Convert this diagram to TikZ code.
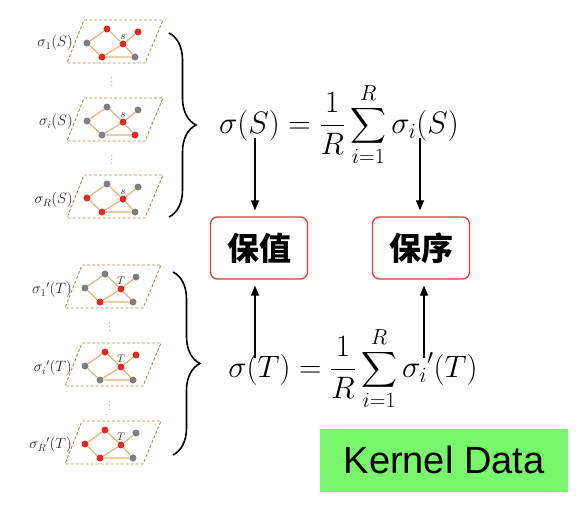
\documentclass[tikz,border=0pt]{standalone}
\usepackage{fix-cm}
\usepackage{fontspec}
\usepackage{amsmath}
\usetikzlibrary{arrows.meta,positioning,decorations.pathreplacing}
\newfontfamily\cjk{Noto Sans CJK SC}
\newfontfamily\arialfont{Liberation Sans}
\definecolor{nred}{HTML}{E8281E}
\definecolor{ngray}{HTML}{7F7F7F}
\definecolor{etan}{HTML}{D9B77E}
\definecolor{fbrown}{HTML}{A88A4E}
\definecolor{bred}{HTML}{E53A2F}
\definecolor{kgreen}{HTML}{78F66C}

\tikzset{
gdot/.style={circle,inner sep=0pt,minimum size=7pt},
gedge/.style={etan,line width=1.2pt},
gframe/.style={fbrown,dash pattern=on 3pt off 2pt,line width=0.9pt}}

% six vertices: left, top, centre, right, bottom, bottom right
\newcommand{\gnodes}[7]{%
\node[gdot,fill=#2] (#1l) at (3,23) {};
\node[gdot,fill=#3] (#1t) at (23,9) {};
\node[gdot,fill=#4] (#1c) at (39,24) {};
\node[gdot,fill=#5] (#1r) at (54,12) {};
\node[gdot,fill=#6] (#1b) at (18,37) {};
\node[gdot,fill=#7] (#1q) at (51,37) {};}

% name, x, y, letter, colours
\newcommand{\minigraph}[5]{%
\begin{scope}[shift={(#2,#3)}]
\draw[gframe] (0,0) -- (79,0) -- (61,43) -- (-17,43) -- cycle;
\gnodes{#1}#5
\node[above=0pt of #1c,inner sep=1pt,text=black!80,font=\fontsize{11}{13}\selectfont] (#1s) {$#4$};
\draw[gedge] (#1l)--(#1t) (#1t)--(#1c) (#1c)--(#1r) (#1l)--(#1b)
  (#1b)--(#1c) (#1b)--(#1q) (#1c)--(#1q);
\end{scope}}

\begin{document}
\begin{tikzpicture}[x=1pt,y=-1pt,
eq/.style={inner sep=0pt,font=\fontsize{31}{36}\selectfont},
lab/.style={anchor=east,inner sep=0pt,text=black!85,font=\fontsize{15}{17}\selectfont},
vd/.style={inner sep=0pt,text=black!80,font=\small},
keep/.style={draw=bred,line width=1.3pt,rounded corners=7pt,minimum width=97pt,minimum height=62pt,font=\cjk\bfseries\fontsize{32}{36}\selectfont},
kernel/.style={fill=kgreen,minimum width=248pt,minimum height=63pt,font=\arialfont\fontsize{38}{44}\selectfont},
arr/.style={-{Triangle[length=10pt,width=8pt]},line width=1.2pt,shorten >=6pt},
bigbrace/.style={decorate,decoration={brace,amplitude=27pt},line width=1.6pt}]
\useasboundingbox (0,0) rectangle (579,512);

% S samples
\minigraph{a}{84}{20}{s}{{ngray}{nred}{nred}{nred}{nred}{ngray}}
\minigraph{b}{84}{98}{s}{{ngray}{ngray}{nred}{ngray}{ngray}{nred}}
\minigraph{c}{84}{175}{s}{{nred}{ngray}{nred}{ngray}{nred}{ngray}}
\node[lab] (labA) at (73,43) {$\sigma_1(S)$};
\node[lab] (labB) at (73,122) {$\sigma_i(S)$};
\node[lab] (labC) at (73,200) {$\sigma_R(S)$};
\node[vd] (dotA) at (112,79) {$\vdots$};
\node[vd] (dotB) at (112,157) {$\vdots$};

% T samples
\minigraph{d}{82}{265}{T}{{ngray}{ngray}{nred}{ngray}{nred}{ngray}}
\minigraph{e}{82}{343}{T}{{ngray}{nred}{nred}{nred}{ngray}{ngray}}
\minigraph{f}{82}{421}{T}{{nred}{nred}{nred}{ngray}{nred}{ngray}}
\node[lab] (labD) at (72,290) {$\sigma_1{}'(T)$};
\node[lab] (labE) at (72,368) {$\sigma_i{}'(T)$};
\node[lab] (labF) at (72,445) {$\sigma_R{}'(T)$};
\node[vd] (dotD) at (110,324) {$\vdots$};
\node[vd] (dotE) at (110,403) {$\vdots$};

% braces
\coordinate (bS1) at (169,33); \coordinate (bS2) at (169,217);
\coordinate (bT1) at (173,272); \coordinate (bT2) at (173,455);
\draw[bigbrace] (bS1) -- (bS2);
\draw[bigbrace] (bT1) -- (bT2);

% formulas
\node[eq] (eqS) at (339,125) {$\displaystyle\sigma(S)=\frac{1}{R}\sum_{i=1}^{R}\sigma_i(S)$};
\node[eq] (eqT) at (353,369) {$\displaystyle\sigma(T)=\frac{1}{R}\sum_{i=1}^{R}\sigma_i{}'(T)$};

\node[keep] (val) at (259,248) {保值};
\node[keep] (ord) at (421,248) {保序};
\node[kernel] (kd) at (444,460) {Kernel Data};

\coordinate (fromS1) at (255,138); \coordinate (fromS2) at (420,138);
\coordinate (fromT1) at (255,358); \coordinate (fromT2) at (424,358);
\draw[arr] (fromS1) -- (fromS1 |- val.north);
\draw[arr] (fromS2) -- (fromS2 |- ord.north);
\draw[arr] (fromT1) -- (fromT1 |- val.south);
\draw[arr] (fromT2) -- (fromT2 |- ord.south);
\end{tikzpicture}
\end{document}
